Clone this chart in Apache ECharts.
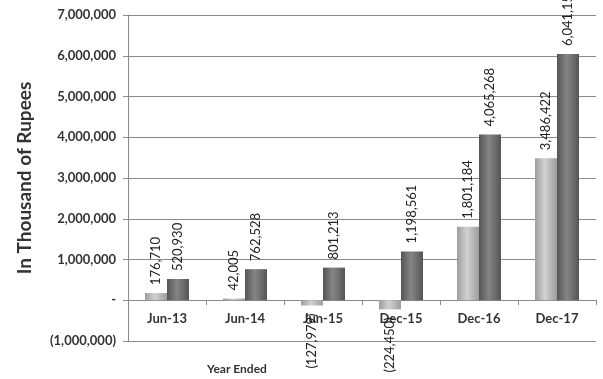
<!DOCTYPE html>
<html>
<head>
<meta charset="utf-8">
<style>
  html, body { margin: 0; padding: 0; background: #fff; }
  #chart { width: 603px; height: 379px; }
</style>
<script src="https://cdn.jsdelivr.net/npm/echarts@6/dist/echarts.min.js"></script>
</head>
<body>
<div id="chart"></div>
<script>
var categories = ['Jun-13', 'Jun-14', 'Jun-15', 'Dec-15', 'Dec-16', 'Dec-17'];
var lightData = [176710, 42005, -127979, -224450, 1801184, 3486422];
var darkData = [520930, 762528, 801213, 1198561, 4065268, 6041150];

var fontFamily = 'Lato, "Liberation Sans", sans-serif';

function fmt(v) {
  if (v === 0) return '-';
  var s = Math.abs(v).toString().replace(/\B(?=(\d{3})+(?!\d))/g, ',');
  return v < 0 ? '(' + s + ')' : s;
}

function barGradient(edge, mid) {
  return new echarts.graphic.LinearGradient(0, 0, 1, 0, [
    { offset: 0, color: edge },
    { offset: 0.45, color: mid },
    { offset: 1, color: edge }
  ]);
}

function withLabels(arr) {
  return arr.map(function (v) {
    return {
      value: v,
      label: v < 0
        ? { position: 'bottom', align: 'right' }
        : { position: 'top', align: 'left' }
    };
  });
}

var labelStyle = {
  show: true,
  rotate: 90,
  distance: 8,
  verticalAlign: 'middle',
  fontSize: 13,
  color: '#222',
  fontFamily: fontFamily,
  formatter: function (p) { return fmt(p.value); }
};

var chart = echarts.init(document.getElementById('chart'));
chart.setOption({
  animation: false,
  grid: { left: 128, right: 7, top: 15, bottom: 38 },
  xAxis: {
    type: 'category',
    data: categories,
    position: 'bottom',
    offset: -41,
    axisLine: { onZero: false, lineStyle: { color: '#8a8a8a', width: 1 } },
    axisTick: { show: true, length: 5, lineStyle: { color: '#8a8a8a' } },
    axisLabel: { margin: 12, fontSize: 13, fontWeight: 'bold', color: '#333', fontFamily: fontFamily }
  },
  yAxis: {
    type: 'value',
    min: -1000000,
    max: 7000000,
    interval: 1000000,
    name: 'In Thousand of Rupees',
    nameLocation: 'middle',
    nameGap: 94,
    nameTextStyle: { fontSize: 19, fontWeight: 'bold', color: '#333', fontFamily: fontFamily },
    axisLine: { show: true, lineStyle: { color: '#8a8a8a' } },
    axisTick: { show: true, length: 5, lineStyle: { color: '#8a8a8a' } },
    splitLine: { lineStyle: { color: '#8a8a8a', width: 1 } },
    axisLabel: {
      margin: 12,
      fontSize: 13,
      fontWeight: 'bold',
      color: '#333',
      fontFamily: fontFamily,
      formatter: fmt
    }
  },
  graphic: [{
    type: 'text',
    left: 207,
    top: 363,
    style: { text: 'Year Ended', font: 'bold 12px ' + fontFamily, fill: '#333' }
  }],
  series: [{
    name: 'light',
    type: 'bar',
    barWidth: 22,
    barGap: '0%',
    data: withLabels(lightData),
    itemStyle: { color: barGradient('#9d9d9d', '#d2d2d2') },
    label: labelStyle
  }, {
    name: 'dark',
    type: 'bar',
    barWidth: 22,
    barGap: '0%',
    data: withLabels(darkData),
    itemStyle: { color: barGradient('#555555', '#858585') },
    label: labelStyle
  }]
});
</script>
</body>
</html>
